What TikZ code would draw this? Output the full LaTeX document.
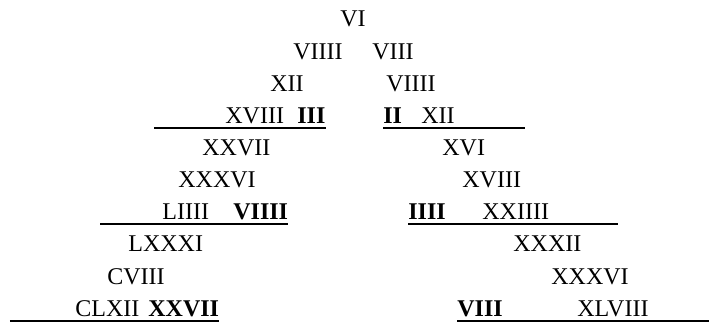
\documentclass[tikz,border=0pt]{standalone}
\usepackage{fontspec}
\setmainfont{Liberation Serif}
\usetikzlibrary{positioning}

\begin{document}
\begin{tikzpicture}[
    x=0.5pt, y=-0.5pt,
    num/.style={
        inner sep=0pt,
        anchor=base west,
        font=\fontsize{12}{14}\selectfont
    },
    bnum/.style={num, font=\fontsize{12}{14}\selectfont\bfseries},
    uline/.style={line width=0.9pt}
]
    \useasboundingbox (0,0) rectangle (709,325);

    % Define nodes
    \node[num] (top) at (340,27) {VI};
    \node[num] (l2) at (293,60) {VIIII};
    \node[num] (r2) at (372,60) {VIII};
    \node[num] (l3) at (270,92) {XII};
    \node[num] (r3) at (386,92) {VIIII};
    \node[num] (l4) at (225,124) {XVIII};
    \node[bnum] (l4b) at (297,124) {III};
    \node[bnum] (r4b) at (383,124) {II};
    \node[num] (r4) at (421,124) {XII};
    \node[num] (l5) at (202,156) {XXVII};
    \node[num] (r5) at (442,156) {XVI};
    \node[num] (l6) at (178,188) {XXXVI};
    \node[num] (r6) at (462,188) {XVIII};
    \node[num] (l7) at (162,220) {LIIII};
    \node[bnum] (l7b) at (233,220) {VIIII};
    \node[bnum] (r7b) at (408,220) {IIII};
    \node[num] (r7) at (482,220) {XXIIII};
    \node[num] (l8) at (128,252) {LXXXI};
    \node[num] (r8) at (513,252) {XXXII};
    \node[num] (l9) at (107,285) {CVIII};
    \node[num] (r9) at (551,285) {XXXVI};
    \node[num] (l10) at (75,317) {CLXII};
    \node[bnum] (l10b) at (148,317) {XXVII};
    \node[bnum] (r10b) at (457,317) {VIII};
    \node[num] (r10) at (577,317) {XLVIII};

    % Underline ends
    \coordinate (u4l) at (154,128);
    \coordinate (u4r) at (525,128);
    \coordinate (u7l) at (100,224);
    \coordinate (u7r) at (618,224);
    \coordinate (u10l) at (10,321);
    \coordinate (u10r) at (709,321);

    % Underlines
    \draw[uline] (u4l) -- (u4l -| l4b.east);
    \draw[uline] (u4r -| r4b.west) -- (u4r);
    \draw[uline] (u7l) -- (u7l -| l7b.east);
    \draw[uline] (u7r -| r7b.west) -- (u7r);
    \draw[uline] (u10l) -- (u10l -| l10b.east);
    \draw[uline] (u10r -| r10b.west) -- (u10r);
\end{tikzpicture}
\end{document}
